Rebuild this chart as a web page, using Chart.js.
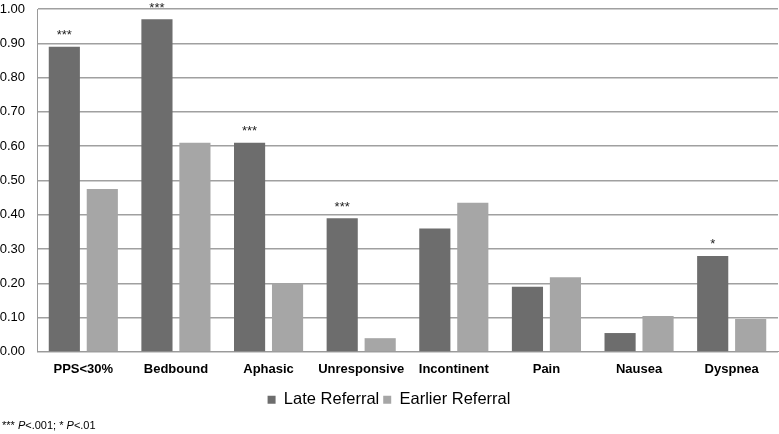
<!DOCTYPE html>
<html>
<head>
<meta charset="utf-8">
<script src="https://cdn.jsdelivr.net/npm/chart.js@4"></script>
<style>
  html, body { margin: 0; padding: 0; background: #fff; }
  #wrap { position: relative; width: 779px; height: 434px; }
  #note { position: absolute; left: 2px; top: 419px; font: 11px "Liberation Sans", Arial, sans-serif; color: #000; }
</style>
</head>
<body>
<div id="wrap">
  <canvas id="chart" width="779" height="434"></canvas>
  <div id="note">*** <i>P</i>&lt;.001; * <i>P</i>&lt;.01</div>
</div>
<script>
const categories = ["PPS<30%", "Bedbound", "Aphasic", "Unresponsive", "Incontinent", "Pain", "Nausea", "Dyspnea"];
const lateReferral = [0.89, 0.97, 0.61, 0.39, 0.36, 0.19, 0.055, 0.28];
const earlierReferral = [0.475, 0.61, 0.20, 0.04, 0.435, 0.218, 0.105, 0.096];
const significance = ["***", "***", "***", "***", "", "", "", "*"];

// draws the significance stars above the late referral bars
const starsPlugin = {
  id: "stars",
  afterDatasetsDraw(chart) {
    const ctx = chart.ctx;
    const meta = chart.getDatasetMeta(0);
    ctx.save();
    ctx.fillStyle = "#222";
    ctx.font = "13px 'Liberation Sans', Arial, sans-serif";
    ctx.textAlign = "center";
    ctx.textBaseline = "middle";
    meta.data.forEach((bar, i) => {
      if (significance[i]) ctx.fillText(significance[i], bar.x, bar.y - 11);
    });
    ctx.restore();
  }
};

new Chart(document.getElementById("chart"), {
  type: "bar",
  data: {
    labels: categories,
    datasets: [
      {
        label: "Late Referral",
        data: lateReferral,
        backgroundColor: "#6d6d6d",
        categoryPercentage: 0.82,
        barPercentage: 0.82,
      },
      {
        label: "Earlier Referral",
        data: earlierReferral,
        backgroundColor: "#a6a6a6",
        categoryPercentage: 0.82,
        barPercentage: 0.82,
      },
    ],
  },
  options: {
    responsive: false,
    animation: false,
    layout: { padding: { top: 1, right: 1, bottom: 16, left: 0 } },
    plugins: {
      tooltip: { enabled: false },
      legend: {
        position: "bottom",
        labels: {
          boxWidth: 8,
          boxHeight: 8,
          padding: 4,
          color: "#000",
          font: { size: 16.5, family: "'Liberation Sans', Arial, sans-serif" },
        },
      },
    },
    scales: {
      x: {
        grid: { display: false, drawTicks: false },
        border: { color: "#9a9a9a" },
        ticks: {
          color: "#000",
          padding: 10,
          font: { size: 13, weight: "bold", family: "'Liberation Sans', Arial, sans-serif" },
        },
      },
      y: {
        min: 0,
        max: 1,
        afterFit: (scale) => {
          scale.width = 37;
          scale.paddingTop = 9;
        },
        ticks: {
          stepSize: 0.1,
          color: "#000",
          padding: 12,
          font: { size: 13, family: "'Liberation Sans', Arial, sans-serif" },
          callback: (v) => Number(v).toFixed(2),
        },
        grid: { color: "#a0a0a0", lineWidth: 1.5, drawTicks: false },
        border: { color: "#9a9a9a" },
      },
    },
  },
  plugins: [starsPlugin],
});
</script>
</body>
</html>
